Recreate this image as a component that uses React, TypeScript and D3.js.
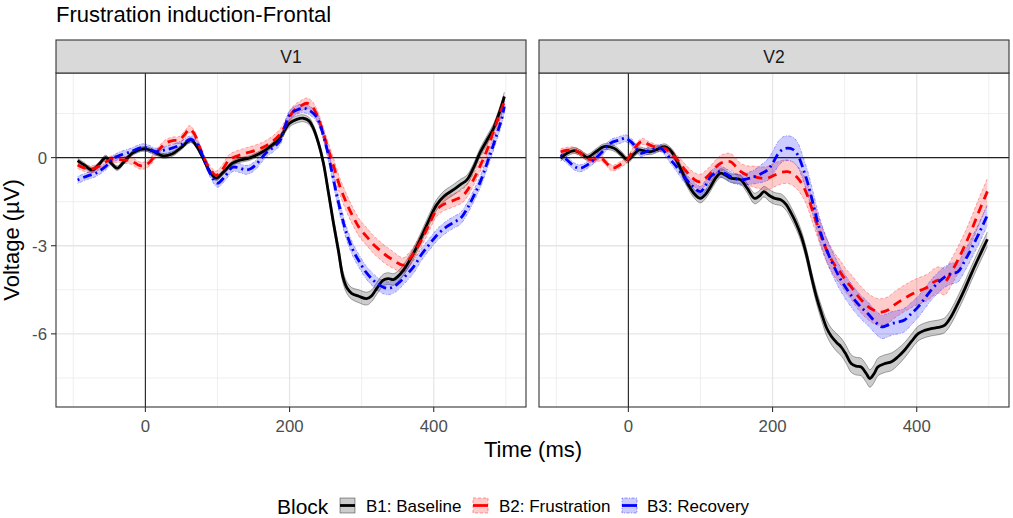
import React from 'react';
import * as d3 from 'd3';

type P = [number, number, number]; // [time ms, voltage µV, standard error]

const panels = ['V1', 'V2'];
const blocks = ['B1: Baseline', 'B2: Frustration', 'B3: Recovery'];
const lineColors = ['#000000', '#FF0000', '#0000FF'];
const ribbonFills = ['rgba(0,0,0,0.2)', 'rgba(255,0,0,0.2)', 'rgba(0,0,255,0.2)'];
const dashes = ['', '9,6', '2,4,9,4'];
const edgeDashes = ['', '3,2', '1,1.5,3,1.5'];
const xTicks = [0, 200, 400];
const yTicks = [-6, -3, 0];
const xMinor = [-100, 100, 300, 500];
const yMinor = [-7.5, -4.5, -1.5, 1.5];

const v1Baseline: P[] = [
  [-94, -0.1, 0.08], [-85, -0.25, 0.08], [-74, -0.42, 0.08], [-65, -0.25, 0.08], [-55, 0.0, 0.08],
  [-47, -0.2, 0.08], [-39, -0.36, 0.08], [-30, -0.15, 0.08], [-18, 0.15, 0.08], [-8, 0.27, 0.08],
  [0, 0.3, 0.08], [12, 0.2, 0.08], [24, 0.06, 0.08], [37, 0.12, 0.08], [50, 0.35, 0.08],
  [63, 0.6, 0.08], [72, 0.35, 0.08], [79, 0.03, 0.08], [90, -0.5, 0.08], [98, -0.7, 0.08],
  [108, -0.5, 0.08], [121, -0.19, 0.08], [132, -0.08, 0.08], [144, -0.02, 0.08], [155, 0.1, 0.08],
  [167, 0.26, 0.08], [186, 0.66, 0.1], [200, 1.17, 0.12], [210, 1.3, 0.12], [219, 1.34, 0.12],
  [227, 1.25, 0.12], [233, 1.0, 0.12], [240, 0.5, 0.12], [247, -0.19, 0.14], [254, -1.2, 0.16],
  [261, -2.24, 0.18], [268, -3.2, 0.2], [274, -4.06, 0.2], [280, -4.45, 0.2], [286, -4.62, 0.2],
  [296, -4.72, 0.22], [307, -4.8, 0.22], [314, -4.7, 0.2], [321, -4.45, 0.2], [330, -4.17, 0.2],
  [337, -4.12, 0.2], [344, -4.15, 0.2], [350, -4.05, 0.18], [358, -3.83, 0.18], [370, -3.35, 0.18],
  [381, -2.8, 0.18], [393, -2.15, 0.18], [404, -1.61, 0.18], [415, -1.3, 0.18], [427, -1.1, 0.18],
  [437, -0.92, 0.18], [446, -0.76, 0.16], [455, -0.36, 0.15], [464, 0.15, 0.15], [474, 0.6, 0.15],
  [483, 1.0, 0.15], [492, 1.6, 0.15], [498, 2.08, 0.15],
];

const v1Frustration: P[] = [
  [-94, -0.25, 0.12], [-85, -0.35, 0.12], [-75, -0.4, 0.12], [-63, -0.28, 0.12], [-50, -0.08, 0.12],
  [-40, -0.05, 0.12], [-32, -0.08, 0.12], [-20, -0.1, 0.12], [-10, -0.25, 0.12], [-4, -0.28, 0.12],
  [4, -0.2, 0.12], [12, 0.03, 0.12], [20, 0.3, 0.12], [28, 0.49, 0.12], [38, 0.58, 0.12],
  [47, 0.6, 0.12], [55, 0.8, 0.12], [61, 0.97, 0.12], [68, 0.8, 0.12], [75, 0.37, 0.12],
  [85, -0.2, 0.12], [93, -0.5, 0.12], [98, -0.6, 0.14], [107, -0.4, 0.16], [116, -0.08, 0.18],
  [127, 0.05, 0.18], [139, 0.15, 0.18], [153, 0.25, 0.18], [167, 0.4, 0.18], [186, 0.77, 0.18],
  [205, 1.57, 0.18], [215, 1.75, 0.18], [224, 1.85, 0.18], [231, 1.75, 0.18], [237, 1.51, 0.18],
  [244, 1.05, 0.2], [251, 0.49, 0.22], [260, -0.2, 0.25], [270, -0.99, 0.28], [280, -1.6, 0.3],
  [288, -2.01, 0.3], [297, -2.4, 0.3], [307, -2.69, 0.3], [316, -2.95, 0.3], [325, -3.15, 0.3],
  [335, -3.35, 0.3], [344, -3.49, 0.28], [351, -3.6, 0.26], [358, -3.66, 0.25], [365, -3.5, 0.24],
  [372, -3.26, 0.22], [381, -2.9, 0.22], [390, -2.47, 0.22], [397, -2.1, 0.22], [404, -1.78, 0.22],
  [413, -1.6, 0.22], [423, -1.5, 0.22], [431, -1.42, 0.22], [439, -1.33, 0.22], [447, -1.1, 0.22],
  [455, -0.76, 0.2], [465, -0.25, 0.2], [474, 0.26, 0.2], [483, 0.9, 0.2], [492, 1.51, 0.2],
  [498, 1.9, 0.2],
];

const v1Recovery: P[] = [
  [-94, -0.76, 0.12], [-80, -0.62, 0.12], [-69, -0.53, 0.12], [-55, -0.3, 0.12], [-45, -0.05, 0.12],
  [-37, 0.06, 0.12], [-20, 0.2, 0.12], [-4, 0.35, 0.12], [5, 0.3, 0.12], [14, 0.2, 0.12],
  [25, 0.25, 0.12], [37, 0.32, 0.12], [50, 0.45, 0.12], [63, 0.62, 0.12], [72, 0.45, 0.12],
  [79, 0.09, 0.12], [90, -0.55, 0.12], [100, -0.87, 0.14], [110, -0.65, 0.15], [121, -0.33, 0.15],
  [130, -0.35, 0.15], [139, -0.42, 0.15], [146, -0.38, 0.15], [153, -0.25, 0.15], [160, -0.05, 0.15],
  [167, 0.15, 0.15], [186, 0.55, 0.15], [200, 1.45, 0.15], [210, 1.62, 0.15], [219, 1.68, 0.15],
  [228, 1.6, 0.15], [237, 1.4, 0.15], [244, 1.0, 0.16], [251, 0.38, 0.18], [258, -0.4, 0.2],
  [265, -1.22, 0.22], [272, -1.95, 0.22], [279, -2.58, 0.22], [288, -3.15, 0.22], [297, -3.55, 0.22],
  [306, -3.9, 0.22], [316, -4.17, 0.22], [325, -4.35, 0.22], [335, -4.45, 0.22], [344, -4.4, 0.22],
  [353, -4.23, 0.22], [362, -4.0, 0.22], [372, -3.72, 0.22], [383, -3.3, 0.2], [395, -2.92, 0.2],
  [406, -2.6, 0.2], [418, -2.35, 0.2], [428, -2.2, 0.2], [437, -2.07, 0.2], [446, -1.75, 0.2],
  [455, -1.33, 0.2], [465, -0.8, 0.2], [474, -0.19, 0.2], [481, 0.3, 0.2], [488, 0.83, 0.2],
  [494, 1.3, 0.2], [498, 1.74, 0.2],
];

const v2Baseline: P[] = [
  [-94, -0.02, 0.1], [-85, 0.15, 0.1], [-75, 0.24, 0.1], [-66, 0.15, 0.1], [-57, 0.01, 0.1],
  [-45, 0.2, 0.1], [-34, 0.37, 0.1], [-20, 0.32, 0.1], [-10, 0.12, 0.1], [-1, -0.08, 0.1],
  [7, 0.1, 0.1], [15, 0.26, 0.1], [23, 0.22, 0.1], [31, 0.2, 0.1], [40, 0.28, 0.1],
  [50, 0.37, 0.1], [57, 0.28, 0.1], [63, 0.09, 0.12], [72, -0.35, 0.14], [82, -0.87, 0.15],
  [92, -1.25, 0.15], [100, -1.39, 0.15], [107, -1.25, 0.15], [114, -0.99, 0.15], [121, -0.7, 0.15],
  [128, -0.53, 0.15], [135, -0.6, 0.15], [142, -0.7, 0.15], [149, -0.72, 0.15], [156, -0.76, 0.15],
  [165, -1.05, 0.16], [175, -1.39, 0.18], [182, -1.3, 0.18], [188, -1.16, 0.18], [196, -1.3, 0.2],
  [203, -1.39, 0.2], [212, -1.44, 0.2], [219, -1.6, 0.2], [226, -1.9, 0.2], [233, -2.25, 0.2],
  [240, -2.69, 0.2], [247, -3.3, 0.2], [254, -4.06, 0.2], [261, -4.75, 0.22], [268, -5.31, 0.24],
  [275, -5.8, 0.26], [282, -6.1, 0.28], [289, -6.3, 0.3], [295, -6.44, 0.3], [302, -6.7, 0.3],
  [309, -7.01, 0.3], [316, -7.1, 0.3], [323, -7.13, 0.3], [330, -7.35, 0.3], [335, -7.52, 0.3],
  [341, -7.35, 0.3], [346, -7.13, 0.3], [355, -7.02, 0.3], [365, -6.95, 0.3], [374, -6.78, 0.28],
  [383, -6.56, 0.26], [393, -6.25, 0.25], [402, -5.99, 0.25], [411, -5.88, 0.25], [420, -5.82, 0.25],
  [430, -5.78, 0.25], [439, -5.7, 0.25], [448, -5.4, 0.25], [457, -4.97, 0.25], [467, -4.45, 0.25],
  [476, -3.94, 0.25], [487, -3.35, 0.25], [498, -2.78, 0.25],
];

const v2Frustration: P[] = [
  [-94, 0.2, 0.1], [-85, 0.25, 0.1], [-75, 0.26, 0.1], [-63, 0.1, 0.1], [-52, -0.08, 0.1],
  [-38, -0.02, 0.1], [-30, -0.2, 0.1], [-22, -0.36, 0.1], [-12, -0.25, 0.1], [-1, -0.06, 0.1],
  [8, 0.3, 0.1], [19, 0.55, 0.1], [28, 0.45, 0.1], [36, 0.37, 0.1], [43, 0.3, 0.1],
  [50, 0.32, 0.1], [59, 0.15, 0.12], [68, -0.08, 0.15], [78, -0.4, 0.2], [87, -0.65, 0.22],
  [95, -0.8, 0.25], [100, -0.82, 0.25], [107, -0.7, 0.25], [114, -0.53, 0.25], [121, -0.33, 0.25],
  [128, -0.19, 0.26], [135, -0.14, 0.28], [142, -0.14, 0.28], [149, -0.3, 0.28], [156, -0.48, 0.28],
  [165, -0.6, 0.32], [175, -0.65, 0.36], [184, -0.7, 0.38], [193, -0.7, 0.4], [203, -0.59, 0.4],
  [212, -0.5, 0.4], [221, -0.48, 0.4], [228, -0.55, 0.4], [235, -0.7, 0.4], [242, -0.95, 0.4],
  [249, -1.33, 0.4], [256, -1.85, 0.4], [263, -2.35, 0.4], [270, -2.85, 0.4], [277, -3.26, 0.4],
  [286, -3.65, 0.4], [295, -3.94, 0.4], [302, -4.2, 0.4], [309, -4.4, 0.42], [318, -4.7, 0.44],
  [328, -4.97, 0.45], [337, -5.15, 0.45], [346, -5.25, 0.45], [353, -5.25, 0.45], [360, -5.19, 0.45],
  [370, -5.0, 0.45], [379, -4.85, 0.45], [388, -4.72, 0.45], [397, -4.6, 0.45], [407, -4.5, 0.45],
  [416, -4.4, 0.45], [423, -4.25, 0.45], [430, -4.17, 0.45], [435, -4.2, 0.45], [439, -4.23, 0.45],
  [448, -3.9, 0.45], [457, -3.49, 0.45], [467, -2.98, 0.45], [476, -2.47, 0.45], [486, -1.85, 0.45],
  [496, -1.27, 0.45], [498, -1.15, 0.45],
];

const v2Recovery: P[] = [
  [-94, 0.09, 0.12], [-85, -0.08, 0.12], [-75, -0.3, 0.12], [-66, -0.36, 0.12], [-57, -0.25, 0.12],
  [-48, -0.08, 0.12], [-36, 0.2, 0.12], [-25, 0.49, 0.12], [-12, 0.6, 0.12], [-4, 0.66, 0.12],
  [3, 0.55, 0.12], [8, 0.43, 0.12], [17, 0.15, 0.12], [24, 0.2, 0.12], [31, 0.26, 0.12],
  [38, 0.3, 0.12], [45, 0.32, 0.12], [52, 0.15, 0.12], [59, -0.08, 0.14], [68, -0.35, 0.16],
  [77, -0.65, 0.18], [88, -0.95, 0.18], [100, -1.16, 0.18], [107, -0.95, 0.18], [114, -0.65, 0.18],
  [121, -0.52, 0.18], [128, -0.48, 0.18], [135, -0.55, 0.18], [142, -0.65, 0.18], [149, -0.72, 0.18],
  [156, -0.76, 0.18], [165, -0.72, 0.2], [175, -0.65, 0.24], [184, -0.55, 0.3], [193, -0.42, 0.36],
  [200, -0.2, 0.4], [207, 0.1, 0.42], [214, 0.28, 0.42], [221, 0.32, 0.42], [228, 0.28, 0.42],
  [235, 0.09, 0.42], [242, -0.35, 0.4], [249, -0.88, 0.4], [256, -1.55, 0.4], [263, -2.24, 0.4],
  [270, -2.8, 0.4], [277, -3.26, 0.4], [286, -3.75, 0.4], [295, -4.17, 0.4], [305, -4.55, 0.4],
  [314, -4.85, 0.4], [323, -5.1, 0.4], [332, -5.31, 0.4], [341, -5.55, 0.4], [351, -5.76, 0.4],
  [358, -5.72, 0.4], [365, -5.65, 0.4], [374, -5.6, 0.4], [383, -5.53, 0.4], [393, -5.3, 0.38],
  [402, -5.08, 0.36], [411, -4.8, 0.35], [420, -4.51, 0.35], [430, -4.25, 0.35], [439, -4.06, 0.35],
  [448, -3.95, 0.35], [457, -3.89, 0.35], [467, -3.5, 0.35], [476, -3.09, 0.35], [486, -2.6, 0.35],
  [496, -2.07, 0.35], [498, -1.97, 0.35],
];

const panelSeries: P[][][] = [
  [v1Baseline, v1Frustration, v1Recovery],
  [v2Baseline, v2Frustration, v2Recovery],
];

const W = 1013;
const H = 518;
const panelLefts = [56, 539];
const panelW = 470;
const stripTop = 40;
const stripH = 33;
const plotTop = 73;
const plotBottom = 407;
const FONT = 'Liberation Sans, Arial, Helvetica, sans-serif';

const yScale = d3.scaleLinear().domain([-8.49, 2.88]).range([plotBottom, plotTop]);

function Panel({ idx }: { idx: number }) {
  const left = panelLefts[idx];
  const x = d3.scaleLinear().domain([-124, 528]).range([left, left + panelW]);
  const series = panelSeries[idx];
  const curve = d3.curveCatmullRom.alpha(0.5);
  const line = d3.line<P>().x((d) => x(d[0])).y((d) => yScale(d[1])).curve(curve);
  const area = d3
    .area<P>()
    .x((d) => x(d[0]))
    .y0((d) => yScale(d[1] - d[2]))
    .y1((d) => yScale(d[1] + d[2]))
    .curve(curve);
  const upper = d3.line<P>().x((d) => x(d[0])).y((d) => yScale(d[1] + d[2])).curve(curve);
  const lower = d3.line<P>().x((d) => x(d[0])).y((d) => yScale(d[1] - d[2])).curve(curve);
  const clipId = `clip${idx}`;
  return (
    <g>
      <defs>
        <clipPath id={clipId}>
          <rect x={left} y={plotTop} width={panelW} height={plotBottom - plotTop} />
        </clipPath>
      </defs>
      <rect x={left} y={plotTop} width={panelW} height={plotBottom - plotTop} fill="#FFFFFF" />
      {xMinor.map((t) => (
        <line key={`xm${t}`} x1={x(t)} x2={x(t)} y1={plotTop} y2={plotBottom} stroke="#EBEBEB" strokeWidth={0.8} />
      ))}
      {yMinor.map((v) => (
        <line key={`ym${v}`} x1={left} x2={left + panelW} y1={yScale(v)} y2={yScale(v)} stroke="#EBEBEB" strokeWidth={0.8} />
      ))}
      {xTicks.map((t) => (
        <line key={`xg${t}`} x1={x(t)} x2={x(t)} y1={plotTop} y2={plotBottom} stroke="#E6E6E6" strokeWidth={1.3} />
      ))}
      {yTicks.map((v) => (
        <line key={`yg${v}`} x1={left} x2={left + panelW} y1={yScale(v)} y2={yScale(v)} stroke="#E6E6E6" strokeWidth={1.3} />
      ))}
      <line x1={x(0)} x2={x(0)} y1={plotTop} y2={plotBottom} stroke="#222222" strokeWidth={1.1} />
      <line x1={left} x2={left + panelW} y1={yScale(0)} y2={yScale(0)} stroke="#222222" strokeWidth={1.1} />
      <g clipPath={`url(#${clipId})`}>
        {series.map((s, i) => (
          <g key={`r${i}`}>
            <path d={area(s) || ''} fill={ribbonFills[i]} stroke="none" />
            <path d={upper(s) || ''} fill="none" stroke={lineColors[i]} strokeOpacity={0.55} strokeWidth={0.6} strokeDasharray={edgeDashes[i]} />
            <path d={lower(s) || ''} fill="none" stroke={lineColors[i]} strokeOpacity={0.55} strokeWidth={0.6} strokeDasharray={edgeDashes[i]} />
          </g>
        ))}
        {series.map((s, i) => (
          <path key={`l${i}`} d={line(s) || ''} fill="none" stroke={lineColors[i]} strokeWidth={2.8} strokeDasharray={dashes[i]} />
        ))}
      </g>
      <rect x={left} y={plotTop} width={panelW} height={plotBottom - plotTop} fill="none" stroke="#333333" strokeWidth={1.1} />
      <rect x={left} y={stripTop} width={panelW} height={stripH} fill="#D9D9D9" stroke="#333333" strokeWidth={1.1} />
      <text x={left + panelW / 2} y={stripTop + 23} textAnchor="middle" fontSize={17.5} fill="#1A1A1A" fontFamily={FONT}>
        {panels[idx]}
      </text>
      {xTicks.map((t) => (
        <g key={`xt${t}`}>
          <line x1={x(t)} x2={x(t)} y1={plotBottom} y2={plotBottom + 5} stroke="#333333" strokeWidth={1.1} />
          <text x={x(t)} y={plotBottom + 25} textAnchor="middle" fontSize={16.8} fill="#4D4D4D" fontFamily={FONT}>
            {t}
          </text>
        </g>
      ))}
    </g>
  );
}

export default function App() {
  const legendItems = [
    { x: 339, tx: 366 },
    { x: 472, tx: 499 },
    { x: 621, tx: 647 },
  ];
  return (
    <svg width={W} height={H} style={{ position: 'absolute', left: 0, top: 0, background: '#FFFFFF' }} fontFamily={FONT}>
      <rect x={0} y={0} width={W} height={H} fill="#FFFFFF" />
      <text x={56} y={22} fontSize={22} fill="#000000">
        Frustration induction-Frontal
      </text>
      <Panel idx={0} />
      <Panel idx={1} />
      {yTicks.map((v) => (
        <g key={`yt${v}`}>
          <line x1={51} x2={56} y1={yScale(v)} y2={yScale(v)} stroke="#333333" strokeWidth={1.1} />
          <text x={47} y={yScale(v) + 6} textAnchor="end" fontSize={16.8} fill="#4D4D4D">
            {v}
          </text>
        </g>
      ))}
      <text x={533} y={457} textAnchor="middle" fontSize={22} fill="#000000">
        Time (ms)
      </text>
      <text transform={`translate(19,${(plotTop + plotBottom) / 2}) rotate(-90)`} textAnchor="middle" fontSize={22} fill="#000000">
        Voltage (µV)
      </text>
      <text x={277} y={514} fontSize={21} fill="#000000">
        Block
      </text>
      {legendItems.map((it, i) => (
        <g key={`lg${i}`}>
          <rect x={it.x + 1} y={498} width={15} height={15} fill={ribbonFills[i]} stroke={lineColors[i]} strokeOpacity={0.55} strokeWidth={0.7} strokeDasharray={edgeDashes[i]} />
          <line x1={it.x + 1} x2={it.x + 16} y1={505.5} y2={505.5} stroke={lineColors[i]} strokeWidth={2.8} />
          <text x={it.tx} y={512} fontSize={17} fill="#000000">
            {blocks[i]}
          </text>
        </g>
      ))}
    </svg>
  );
}
